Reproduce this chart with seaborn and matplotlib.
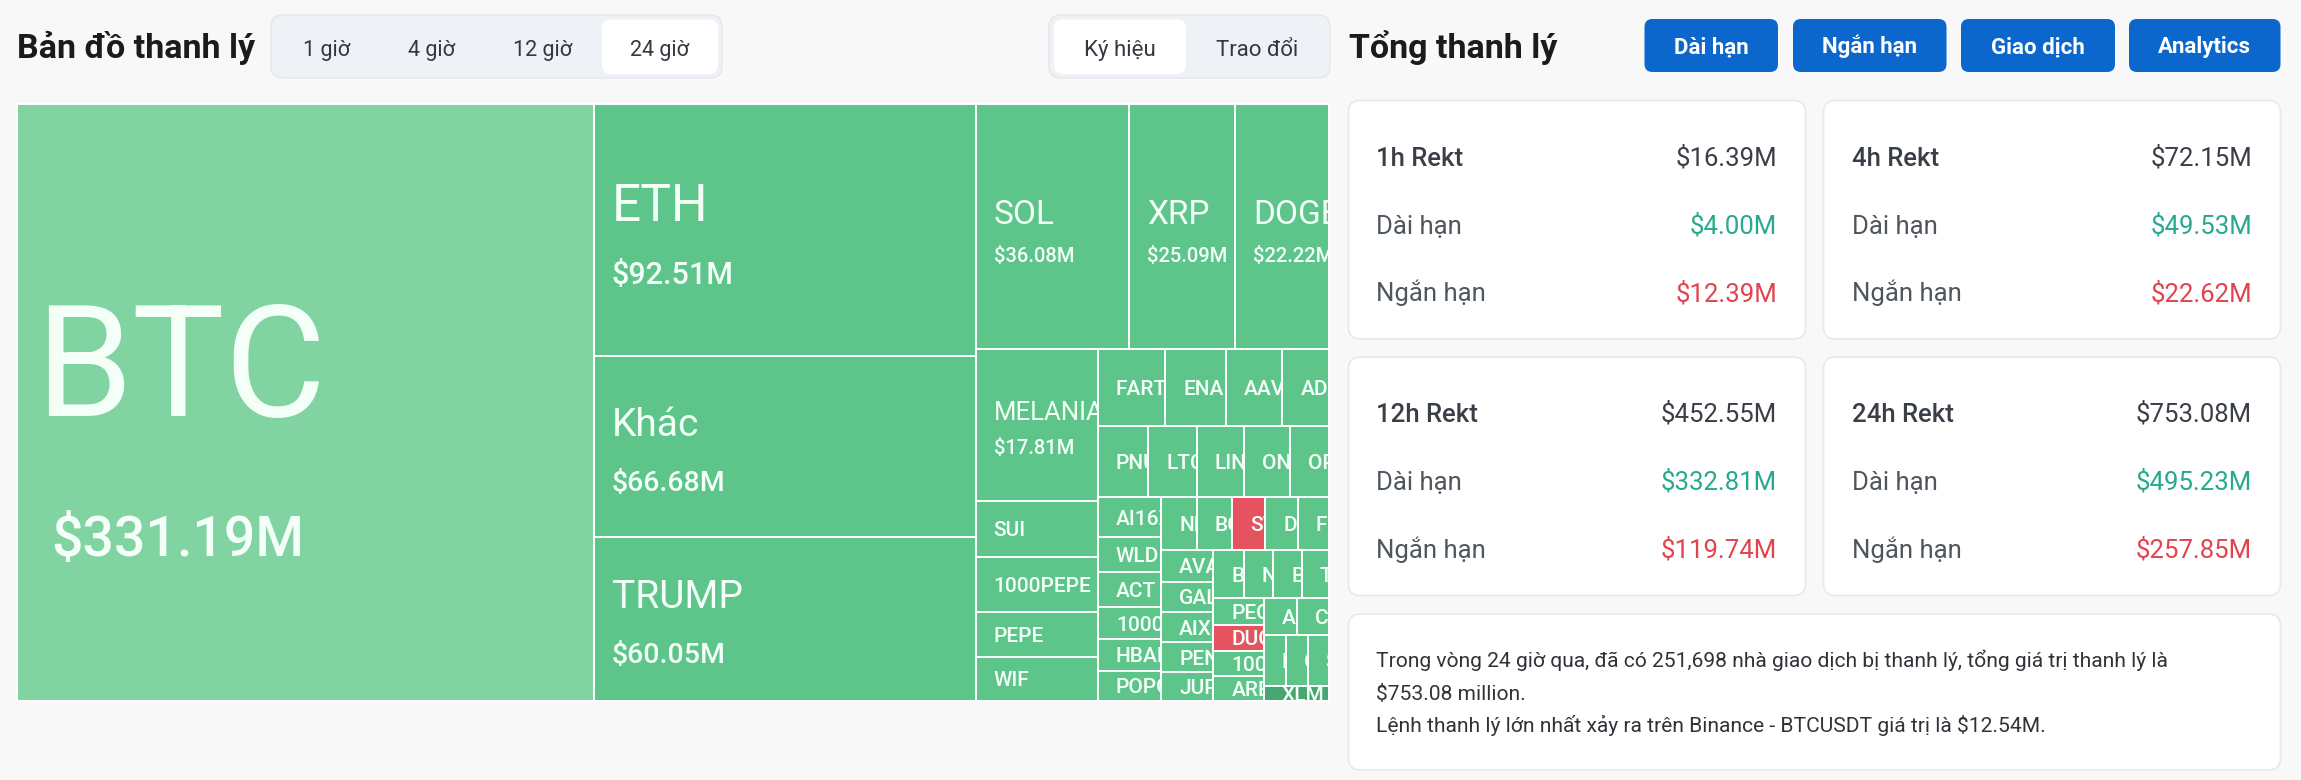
import seaborn as sns
import matplotlib.pyplot as plt
import numpy as np
import pandas as pd
from matplotlib.patches import Rectangle, FancyBboxPatch

# treemap data (M USD liquidated in 24h)
coins = ["BTC", "ETH", "Khác", "TRUMP", "SOL", "XRP", "DOGE", "MELANIA",
         "SUI", "1000PEPE", "PEPE", "WIF", "FARTCOIN", "ENA", "AAVE", "ADA",
         "PNUT", "LTC", "LINK", "ONDO", "OP", "AI16Z", "WLD", "ACT", "1000BONK",
         "HBAR", "POPCAT", "NEIRO", "BCH", "SWARMS", "DOT", "FIL", "AVAX", "GALA",
         "AIXBT", "PENGU", "JUP", "BNB", "NEAR", "BERA", "TAO", "PEOPLE", "DUCK",
         "1000SATS", "ARB", "APT", "CRV", "ETC", "GRASS", "SHIB", "XLM"]
liq_musd = [331.19, 92.51, 66.68, 60.05, 36.08, 25.09, 22.22, 17.81,
            6.59, 6.47, 5.36, 5.08, 5.02, 4.50, 4.19, 3.46,
            3.45, 3.30, 3.22, 3.13, 2.68, 2.44, 2.14, 2.14, 1.93,
            1.93, 1.82, 1.81, 1.79, 1.69, 1.67, 1.58, 1.57, 1.53,
            1.51, 1.50, 1.42, 1.41, 1.35, 1.32, 1.27, 1.267, 1.267,
            1.215, 1.19, 1.19, 1.11, 1.08, 1.08, 1.04, 0.93]
side = ["L"] * len(coins)
side[coins.index("SWARMS")] = "S"
side[coins.index("DUCK")] = "S"

# summary cards
periods = ["1h", "4h", "12h", "24h"]
total_rekt = [16.39, 72.15, 452.55, 753.08]
long_rekt = [4.00, 49.53, 332.81, 495.23]
short_rekt = [12.39, 22.62, 119.74, 257.85]

time_tabs = ["1 giờ", "4 giờ", "12 giờ", "24 giờ"]
view_tabs = ["Ký hiệu", "Trao đổi"]
buttons = ["Dài hạn", "Ngắn hạn", "Giao dịch", "Analytics"]

traders = 251698
top_exchange = "Binance"
top_pair = "BTCUSDT"
top_order = 12.54

PHI = (1 + 5 ** 0.5) / 2


def squarify(vals, x0, y0, x1, y1, ratio=PHI):
    # same row logic as d3.treemapSquarify
    n = len(vals)
    rects = [None] * n
    value = float(sum(vals))
    i0 = i1 = 0
    while i0 < n:
        dx, dy = x1 - x0, y1 - y0
        s = vals[i1]
        i1 += 1
        vmin = vmax = s
        alpha = max(dy / dx, dx / dy) / (value * ratio)
        beta = s * s * alpha
        best = max(vmax / beta, beta / vmin)
        while i1 < n:
            nv = vals[i1]
            s += nv
            vmin, vmax = min(vmin, nv), max(vmax, nv)
            beta = s * s * alpha
            r = max(vmax / beta, beta / vmin)
            if r > best:
                s -= nv
                break
            best = r
            i1 += 1
        if dx < dy:
            h = dy * s / value
            xx = x0
            for k in range(i0, i1):
                w = dx * vals[k] / s
                rects[k] = (xx, y0, w, h)
                xx += w
            y0 += h
        else:
            w = dx * s / value
            yy = y0
            for k in range(i0, i1):
                h = dy * vals[k] / s
                rects[k] = (x0, yy, w, h)
                yy += h
            x0 += w
        value -= s
        i0 = i1
    return rects


sns.set_theme(style="white")
plt.rcParams['font.family'] = ['Roboto', 'Noto Sans', 'DejaVu Sans']

W, H = 2301, 780
BG = "#f8f8f8"
fig = plt.figure(figsize=(W / 100, H / 100), dpi=100, facecolor=BG)
ax = fig.add_axes([0, 0, 1, 1])
ax.set_xlim(0, W)
ax.set_ylim(H, 0)
ax.axis("off")


def cap(pt):
    # cap height in px for a font size in pt
    return 0.711 * pt / 0.72


def rbox(x, y, w, h, r, fc, ec="none", lw=0):
    ax.add_patch(FancyBboxPatch((x, y), w, h, boxstyle=f"round,pad=0,rounding_size={r}",
                                fc=fc, ec=ec, lw=lw))


# ---------------- treemap ----------------
d = pd.DataFrame({"coin": coins, "value": liq_musd, "side": side})
rects = squarify(d["value"].tolist(), 17, 104, 1329, 700.5)
green, red = "#5dc58a", "#e5535f"
special = {"BTC": "#81d3a2", "XLM": "#49a672"}
# min value, name pt, value pt, gap px, shift px, value pad px
tiers = [(300, 112, 40, 176, 46, 34), (80, 37, 22, 70, 8, 18), (50, 28, 20.5, 59, 5, 18),
         (20, 24, 14.5, 43, 7, 18), (15, 18.5, 14.5, 36, 4, 18), (0, 15, 0, 0, 0, 18)]
txt_c = "#f4fff8"

for (name, v, s), (x, y, w, h) in zip(d.itertuples(index=False), rects):
    fc = special.get(name, red if s == "S" else green)
    patch = Rectangle((x, y), w, h, facecolor=fc, edgecolor="white", lw=1.4)
    ax.add_patch(patch)
    _, npt, vpt, gap, shift, vpad = next(t for t in tiers if v >= t[0])
    cy = y + h / 2 + shift
    if vpt:
        t1 = ax.text(x + 18, cy - gap / 2 + cap(npt) / 2, name, fontsize=npt,
                     color=txt_c, va="baseline", ha="left", clip_on=True)
        t2 = ax.text(x + vpad, cy + gap / 2 + cap(vpt) / 2, f"${v:.2f}M", fontsize=vpt,
                     color=txt_c, va="baseline", ha="left", clip_on=True,
                     fontweight="medium")
        for t in (t1, t2):
            t.set_clip_path(patch)
    else:
        t = ax.text(x + 18, cy + cap(npt) / 2, name, fontsize=npt, color=txt_c,
                    va="baseline", ha="left", clip_on=True, fontweight="medium")
        t.set_clip_path(patch)

# ---------------- left header ----------------
ax.text(17, 58, "Bản đồ thanh lý", fontsize=24.5, fontweight="bold", color="#1b1b1b",
        va="baseline")
rbox(271, 15, 451, 63, 12, "#eef1f5", "#e3e6ea", 1)
rbox(602, 19.5, 116, 54.5, 9, "white")
for lab, cx in zip(time_tabs, [327, 431, 543, 660]):
    ax.text(cx, 56, lab, fontsize=15.5, color="#333840", ha="center", va="baseline")

rbox(1049, 15, 281, 63, 12, "#eef1f5", "#e3e6ea", 1)
rbox(1054, 19.5, 132, 54.5, 9, "white")
for lab, cx in zip(view_tabs, [1120, 1257]):
    ax.text(cx, 56, lab, fontsize=16, color="#333840", ha="center", va="baseline")

# ---------------- right header ----------------
ax.text(1349, 58, "Tổng thanh lý", fontsize=24.5, fontweight="bold", color="#1b1b1b",
        va="baseline")
for lab, (bx0, bx1) in zip(buttons, [(1644.5, 1778), (1793, 1946.5), (1961, 2115), (2129, 2280.5)]):
    rbox(bx0, 19, bx1 - bx0, 53, 8, "#0b67cc")
    ax.text((bx0 + bx1) / 2, 53.5, lab, fontsize=16, fontweight="bold", color="white",
            ha="center", va="baseline")

# ---------------- cards ----------------
card_x = [1348.5, 1823.5]
card_y = [100.5, 357]
cw, ch = 457, 238.5
dark, mid = "#3a3f47", "#50565e"
gcol, rcol = "#27a98d", "#e2434f"
for i, p in enumerate(periods):
    x0, y0 = card_x[i % 2], card_y[i // 2]
    rbox(x0, y0, cw, ch, 12, "white", "#e6e8eb", 1.2)
    ax.text(x0 + 28, y0 + 65, f"{p} Rekt", fontsize=18.5, fontweight="medium", color=dark,
            va="baseline")
    ax.text(x0 + cw - 28.5, y0 + 65, f"${total_rekt[i]:.2f}M", fontsize=18.5, color=dark,
            ha="right", va="baseline")
    ax.text(x0 + 28, y0 + 133, "Dài hạn", fontsize=18.5, color=mid, va="baseline")
    ax.text(x0 + cw - 28.5, y0 + 133, f"${long_rekt[i]:.2f}M", fontsize=18.5, color=gcol,
            ha="right", va="baseline")
    ax.text(x0 + 28, y0 + 201, "Ngắn hạn", fontsize=18.5, color=mid, va="baseline")
    ax.text(x0 + cw - 28.5, y0 + 201, f"${short_rekt[i]:.2f}M", fontsize=18.5, color=rcol,
            ha="right", va="baseline")

rbox(1348.5, 614, 932, 156, 12, "white", "#e6e8eb", 1.2)
lines = [f"Trong vòng 24 giờ qua, đã có {traders:,} nhà giao dịch bị thanh lý, tổng giá trị thanh lý là",
         f"${total_rekt[3]:.2f} million.",
         f"Lệnh thanh lý lớn nhất xảy ra trên {top_exchange} - {top_pair} giá trị là ${top_order:.2f}M."]
for ln, yb in zip(lines, [667, 700, 732]):
    ax.text(1376.5, yb, ln, fontsize=15.1, color="#2f3338", va="baseline")

fig.savefig("out.png", dpi=100, facecolor=BG)
